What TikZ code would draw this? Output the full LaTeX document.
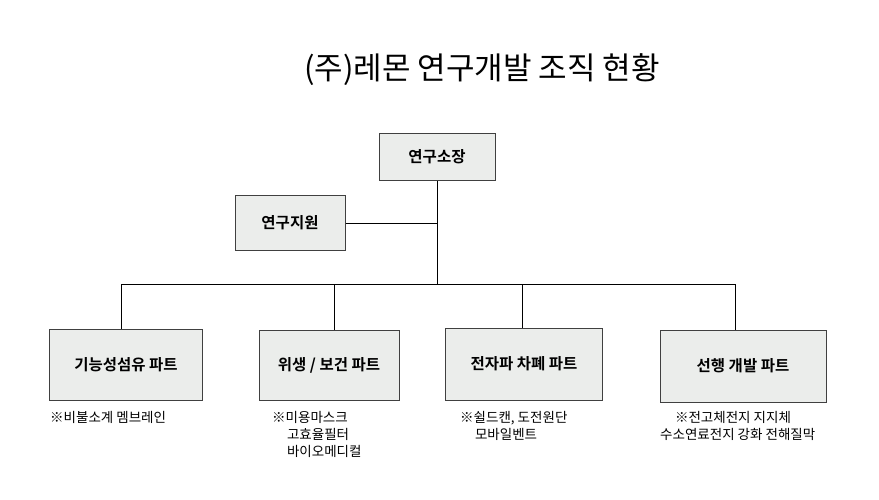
\documentclass[tikz,border=0pt]{standalone}
\usepackage{fontspec}
\setmainfont{Noto Sans CJK KR}
\newfontfamily\boxfont{Noto Sans CJK KR}[BoldFont={* Bold}]
\usetikzlibrary{positioning}

\begin{document}
\begin{tikzpicture}[
    x=1pt, y=-1pt,
    unit/.style={rectangle, draw=black!75, line width=1pt, fill=green!10!black!8!white, font=\boxfont\bfseries\fontsize{15.5}{18}\selectfont, inner sep=0pt},
    note/.style={anchor=north west, align=left, inner sep=0pt, font=\fontsize{13.5}{17}\selectfont},
    link/.style={black, line width=0.8pt}
]
    \useasboundingbox (0,0) rectangle (879,500);
    % Title
    \node[font=\fontsize{31}{36}\selectfont] (title) at (482,70) {(주)레몬 연구개발 조직 현황};
    % Boxes
    \node[unit, minimum width=116, minimum height=47] (head) at (437,157) {연구소장};
    \node[unit, minimum width=110, minimum height=54] (support) at (290,223) {연구지원};
    \node[unit, minimum width=153, minimum height=71] (fiber) at (126,365) {기능성섬유 파트};
    \node[unit, minimum width=140, minimum height=70] (health) at (329,365) {위생 / 보건 파트};
    \node[unit, minimum width=157, minimum height=72] (emi) at (524,364) {전자파 차폐 파트};
    \node[unit, minimum width=166, minimum height=72] (adv) at (743,366) {선행 개발 파트};
    % Bus
    \coordinate (hub) at (437,284);
    \coordinate (bl) at (121,284);
    \coordinate (br) at (735,284);
    \draw[link] (head.south) -- (hub);
    \draw[link] (support.east) -- (support.east -| hub);
    \draw[link] (bl) -- (br);
    \draw[link] (bl) -- (bl |- fiber.north);
    \draw[link] (334,284) -- (334,330);
    \draw[link] (522,284) -- (522,328);
    \draw[link] (br) -- (br |- adv.north);
    % Notes
    \node[note] (nfiber) at (50,411) {※비불소계 멤브레인};
    \node[note] (nhealth) at (272,411) {※미용마스크\\\hspace{1.1em}고효율필터\\\hspace{1.1em}바이오메디컬};
    \node[note] (nemi) at (460,411) {※쉴드캔, 도전원단\\\hspace{1.1em}모바일벤트};
    \node[note] (nadv) at (660,411) {\hspace{1.1em}※전고체전지 지지체\\수소연료전지 강화 전해질막};
\end{tikzpicture}
\end{document}
